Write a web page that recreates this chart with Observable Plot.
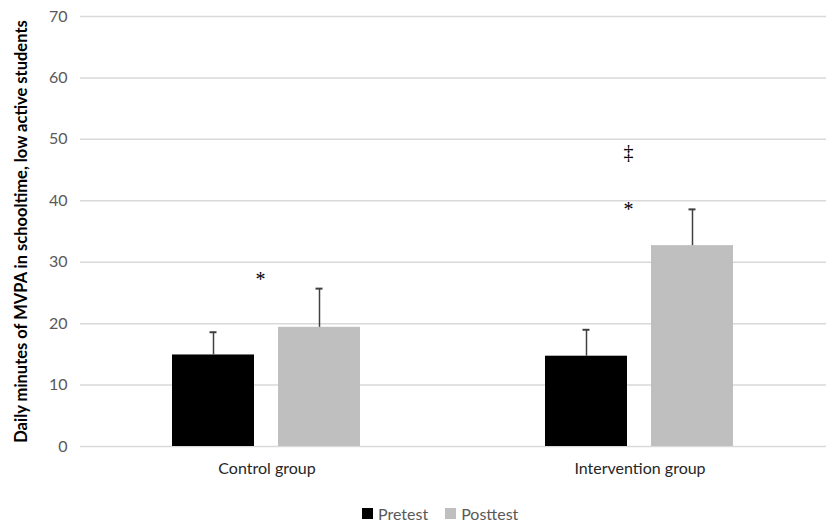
<!DOCTYPE html>
<html>
<head>
<meta charset="utf-8">
<script src="https://cdn.jsdelivr.net/npm/d3@7"></script>
<script src="https://cdn.jsdelivr.net/npm/@observablehq/plot@0.6"></script>
<style>
  html, body { margin: 0; padding: 0; background: #fff; }
  #chart { width: 829px; }
  g[aria-label="y-axis label"] text { font-weight: bold; fill: #000; font-size: 16.5px; }
  #legend { display: flex; align-items: center; font-family: Lato, sans-serif; font-size: 16px; color: #595959; margin-left: 362px; margin-top: 14px; }
  #legend .sw { display: inline-block; width: 11px; height: 11px; margin-right: 5px; }
  #legend .item { display: flex; align-items: center; margin-right: 17px; }
</style>
</head>
<body>
<div id="chart"></div>
<script>
const groups = ["Control group", "Intervention group"];
const series = ["Pretest", "Posttest"];
const pretest = [14.9, 14.7];
const posttest = [19.4, 32.7];
const pretestUpper = [18.6, 19.0];
const posttestUpper = [25.7, 38.6];
const colors = ["#000000", "#bfbfbf"];
const yTicks = [0, 10, 20, 30, 40, 50, 60, 70];
const yLabel = "Daily minutes of MVPA in schooltime, low active students";
const annSymbols = ["*", "*", "\u2021"];
const annGroups = ["Control group", "Intervention group", "Intervention group"];
const annValues = [27.1, 38.5, 47.9];

const data = [];
groups.forEach((g, i) => {
  data.push({group: g, series: "Pretest", value: pretest[i], upper: pretestUpper[i]});
  data.push({group: g, series: "Posttest", value: posttest[i], upper: posttestUpper[i]});
});
const ann = annSymbols.map((s, i) => ({sym: s, group: annGroups[i], y: annValues[i]}));
const annControl = ann.filter(d => d.group === groups[0]);
const annInterv = ann.filter(d => d.group === groups[1]);

const chart = Plot.plot({
  width: 829,
  height: 490,
  marginTop: 16,
  marginLeft: 80,
  marginRight: 3,
  marginBottom: 44,
  style: {fontFamily: "Lato, sans-serif", fontSize: "16px", color: "#595959", background: "white"},
  fx: {domain: groups, padding: 0, label: null},
  x: {domain: series, paddingInner: 0.224, paddingOuter: 0.855, axis: null},
  y: {domain: [0, 70], label: null},
  color: {domain: series, range: colors},
  marks: [
    Plot.gridY(yTicks, {stroke: "#d9d9d9", strokeOpacity: 1, strokeWidth: 1.5}),
    Plot.axisY(yTicks, {tickSize: 0, tickPadding: 13, label: yLabel, labelAnchor: "center", labelOffset: 65, fill: "#595959"}),
    Plot.axisFx({anchor: "bottom", tickSize: 0, tickPadding: 16, label: null, fill: "#262626", fontSize: 16}),
    Plot.barY(data, {fx: "group", x: "series", y: "value", fill: "series"}),
    Plot.ruleX(data, {fx: "group", x: "series", y1: "value", y2: "upper", stroke: "#404040", strokeWidth: 1.5}),
    Plot.tickY(data, {fx: "group", x: "series", y: "upper", stroke: "#404040", strokeWidth: 2, insetLeft: 37.5, insetRight: 37.5}),
    Plot.text(annControl, {fx: "group", y: "y", text: "sym", dx: -6.5, fontSize: 20, fill: "#000", fontFamily: "Liberation Serif, serif"}),
    Plot.text(annInterv, {fx: "group", y: "y", text: "sym", dx: -11.5, fontSize: 20, fill: "#000", fontFamily: "Liberation Serif, serif"})
  ]
});
document.getElementById("chart").appendChild(chart);
chart.querySelectorAll('g[aria-label="y-axis label"] text').forEach(t => { t.textContent = yLabel; });

const legend = document.createElement("div");
legend.id = "legend";
series.forEach((s, i) => {
  const item = document.createElement("span");
  item.className = "item";
  const sw = document.createElement("span");
  sw.className = "sw";
  sw.style.background = colors[i];
  item.appendChild(sw);
  item.appendChild(document.createTextNode(s));
  legend.appendChild(item);
});
document.body.appendChild(legend);
</script>
</body>
</html>
